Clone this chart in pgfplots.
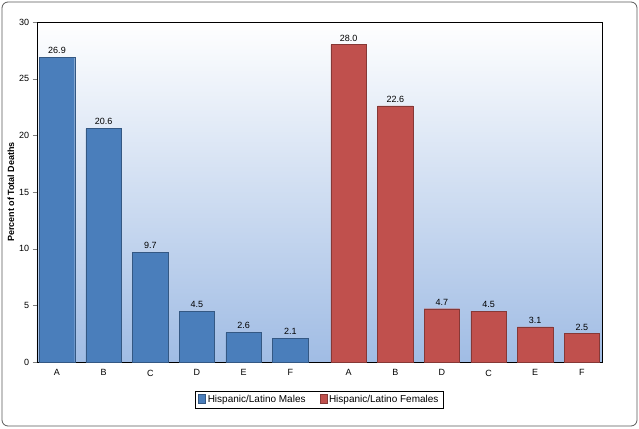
\documentclass[border=0pt]{standalone}
\usepackage{pgfplots}
\pgfplotsset{compat=1.18}
\usepackage{fontspec}
\setmainfont{Liberation Sans}
\definecolor{mblue}{RGB}{74,126,187}
\definecolor{mred}{RGB}{192,80,77}
\begin{document}
\begin{tikzpicture}
\useasboundingbox (-57pt,-66pt) rectangle (582pt,362pt);
\begin{axis}[
  scale only axis, width=565pt, height=340pt,
  at={(0,0)}, anchor=origin,
  xmin=-0.43, xmax=11.68, ymin=0, ymax=30,
  ytick={0,5,...,30}, ytick pos=left,
  xtick={0,1,2,3,4,5,6.25,7.25,8.25,9.25,10.25,11.25},
  xticklabels={A,B,C,D,E,F,A,B,D,C,E,F},
  ybar, bar width=0.76, bar shift=0pt,
  axis background/.style={shade, top color=white, bottom color={rgb,255:red,160;green,188;blue,228}},
  ylabel={\textbf{Percent of Total Deaths}},
  ylabel style={font=\small, at={(ticklabel cs:0.5)}, anchor=south, yshift=-2pt},
  tick label style={font=\small},
  /pgf/number format/assume math mode=true,
  nodes near coords, every node near coord/.append style={font=\small},
  nodes near coords style={/pgf/number format/.cd, fixed, fixed zerofill, precision=1},
  tick align=outside, xtick style={draw=none},
  y tick label style={/pgf/number format/fixed},
  legend style={at={(0.5,-0.085)}, anchor=north, legend columns=2, font=\normalsize,
    /tikz/every even column/.append style={column sep=12pt}},
  legend image code/.code={\draw[#1] (0pt,-4pt) rectangle (7pt,5pt);},
]
\addplot[fill=mblue, draw=mblue!70!black] coordinates {(0,26.9) (1,20.6) (2,9.7) (3,4.5) (4,2.6) (5,2.1)};
\addlegendentry{Hispanic/Latino Males}
\addplot[fill=mred, draw=mred!70!black] coordinates {(6.25,28.0) (7.25,22.6) (8.25,4.7) (9.25,4.5) (10.25,3.1) (11.25,2.5)};
\addlegendentry{Hispanic/Latino Females}
\end{axis}
\draw[rounded corners=6pt, line width=0.8pt, gray!70!black] (-55pt,-64pt) rectangle (580pt,360pt);
\end{tikzpicture}
\end{document}
